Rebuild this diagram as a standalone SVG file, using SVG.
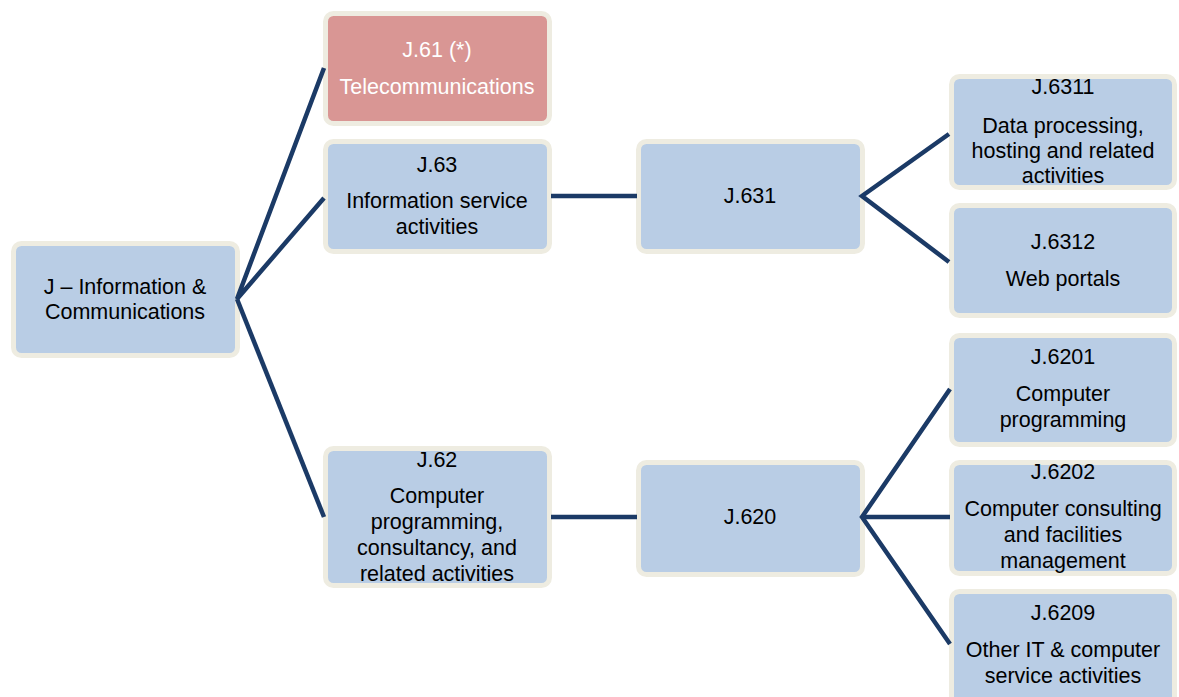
<svg xmlns="http://www.w3.org/2000/svg" width="1179" height="697" viewBox="0 0 1179 697">
<style>
.box{fill:#B9CDE5;stroke:#EEECE1;stroke-width:5}
.pink{fill:#D99694;stroke:#EEECE1;stroke-width:5}
.t{font-family:"Liberation Sans",Arial,sans-serif;font-size:21.5px;fill:#000;text-anchor:middle}
.w{fill:#FFFFFF}
.c{stroke:#1B3A66;stroke-width:4.5;fill:none;stroke-linecap:butt;stroke-linejoin:miter}
</style>
<rect width="1179" height="697" fill="#FFFFFF"/>
<g id="n_root">
<rect class="box" x="13.5" y="243.5" width="224" height="112" rx="8"/>
<text class="t" x="125" y="294">J – Information &amp;</text>
<text class="t" x="125" y="319">Communications</text>
</g>
<g id="n_j61">
<rect class="pink" x="325.5" y="13.5" width="224" height="110" rx="8"/>
<text class="t w" x="437" y="57">J.61 (*)</text>
<text class="t w" x="437" y="94">Telecommunications</text>
</g>
<g id="n_j63">
<rect class="box" x="325.5" y="141.5" width="224" height="110" rx="8"/>
<text class="t" x="437" y="172">J.63</text>
<text class="t" x="437" y="208">Information service</text>
<text class="t" x="437" y="234">activities</text>
</g>
<g id="n_j62">
<rect class="box" x="325.5" y="448.5" width="224" height="137" rx="8"/>
<text class="t" x="437" y="467">J.62</text>
<text class="t" x="437" y="503">Computer</text>
<text class="t" x="437" y="529">programming,</text>
<text class="t" x="437" y="555">consultancy, and</text>
<text class="t" x="437" y="581">related activities</text>
</g>
<g id="n_j631">
<rect class="box" x="638.5" y="141.5" width="224" height="110" rx="8"/>
<text class="t" x="750" y="203">J.631</text>
</g>
<g id="n_j620">
<rect class="box" x="638.5" y="462.5" width="224" height="112" rx="8"/>
<text class="t" x="750" y="524">J.620</text>
</g>
<g id="n_j6311">
<rect class="box" x="951.5" y="76.5" width="223" height="111" rx="8"/>
<text class="t" x="1063" y="94">J.6311</text>
<text class="t" x="1063" y="133">Data processing,</text>
<text class="t" x="1063" y="158">hosting and related</text>
<text class="t" x="1063" y="183">activities</text>
</g>
<g id="n_j6312">
<rect class="box" x="951.5" y="205.5" width="223" height="110" rx="8"/>
<text class="t" x="1063" y="249">J.6312</text>
<text class="t" x="1063" y="286">Web portals</text>
</g>
<g id="n_j6201">
<rect class="box" x="951.5" y="335.5" width="223" height="109" rx="8"/>
<text class="t" x="1063" y="364">J.6201</text>
<text class="t" x="1063" y="401">Computer</text>
<text class="t" x="1063" y="427">programming</text>
</g>
<g id="n_j6202">
<rect class="box" x="951.5" y="462.5" width="223" height="111" rx="8"/>
<text class="t" x="1063" y="479">J.6202</text>
<text class="t" x="1063" y="516">Computer consulting</text>
<text class="t" x="1063" y="542">and facilities</text>
<text class="t" x="1063" y="568">management</text>
</g>
<g id="n_j6209">
<rect class="box" x="951.5" y="591.5" width="223" height="120" rx="8"/>
<text class="t" x="1063" y="620">J.6209</text>
<text class="t" x="1063" y="657">Other IT &amp; computer</text>
<text class="t" x="1063" y="683">service activities</text>
</g>
<g id="connectors">
<path class="c" d="M324 68 L237 299 L324 198"/>
<line class="c" x1="237" y1="299" x2="324" y2="517"/>
<line class="c" x1="551" y1="196" x2="637" y2="196"/>
<path class="c" d="M949 134 L862 196 L949 262"/>
<line class="c" x1="551" y1="517" x2="637" y2="517"/>
<path class="c" d="M950 389 L862 517 L950 644"/>
<line class="c" x1="862" y1="517" x2="950" y2="517"/>
</g>
</svg>
